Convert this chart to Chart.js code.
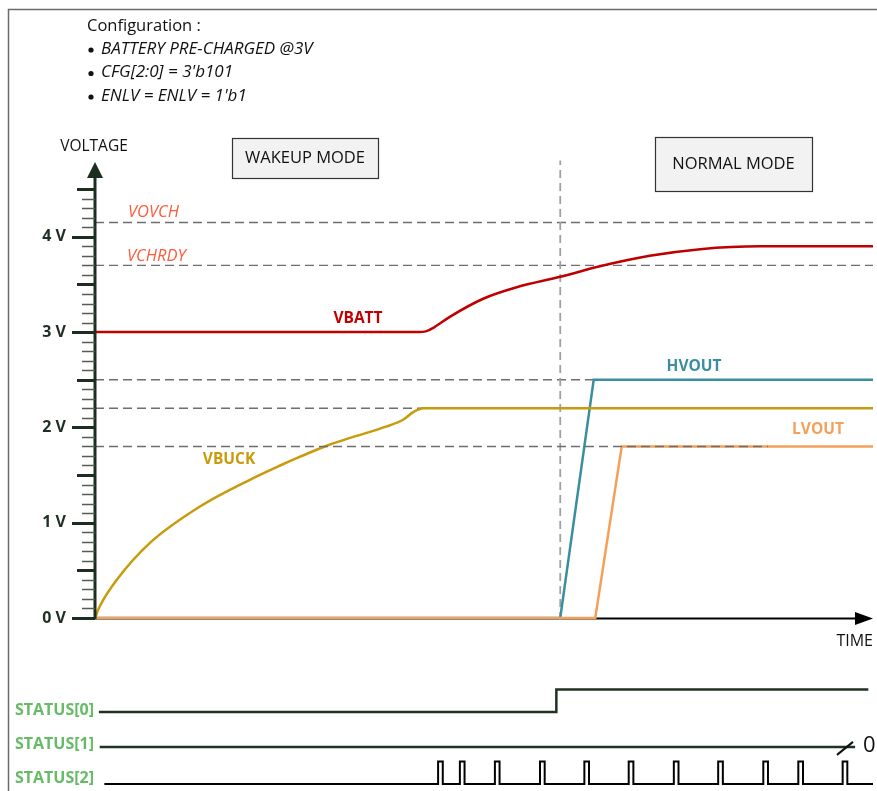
<!DOCTYPE html>
<html>
<head>
<meta charset="utf-8">
<title>Wakeup timing</title>
<script src="https://cdn.jsdelivr.net/npm/chart.js@4.4.1/dist/chart.umd.min.js"></script>
<style>
  html, body { margin: 0; padding: 0; background: #fff; }
  #wrap { width: 877px; height: 791px; }
</style>
</head>
<body>
<div id="wrap"><canvas id="timing" width="877" height="791"></canvas></div>
<script>
// time runs 0..100 (arbitrary units), voltages in V
const vbattT = [0, 41.3, 42.6, 43.6, 45.6, 49.9, 54.2, 59.8, 64.9, 71.3, 77.8, 85.5, 100];
const vbattV = [3.0, 3.0, 3.01, 3.05, 3.16, 3.35, 3.47, 3.58, 3.69, 3.80, 3.87, 3.90, 3.90];

const vbuckT = [0, 0.6, 2.8, 7.1, 13.5, 19.9, 23.8, 26.3, 30.2, 33.2, 37.5, 39.6, 40.9, 42.2, 100];
const vbuckV = [0, 0.12, 0.40, 0.79, 1.17, 1.45, 1.60, 1.69, 1.82, 1.90, 2.01, 2.08, 2.16, 2.20, 2.20];

const hvoutT = [0, 59.8, 64.1, 100];
const hvoutV = [0, 0, 2.5, 2.5];

const lvoutT = [0, 64.3, 67.7, 100];
const lvoutV = [0, 0, 1.8, 1.8];

const refNames = ['VOVCH', 'VCHRDY', '', '', ''];
const refLevels = [4.15, 3.7, 2.5, 2.2, 1.8];
const refEnd = [100, 100, 100, 100, 86.5];
const modeSwitchT = 59.8;

const yTickLabels = ['0 V', '1 V', '2 V', '3 V', '4 V'];

// status signals: edge times and logic levels
const status0T = [0.5, 59.3, 99.4];
const status0L = [0, 1, 1];
const status1T = [0.6, 97.7];
const status1L = [0, 0];
const status2Start = 1.2;
const status2End = 100;
const status2Rise = [44.1, 46.9, 51.4, 57.2, 62.9, 68.6, 74.4, 80.1, 85.9, 90.4, 96.1];
const status2Width = 0.6;

const statusNames = ['STATUS[0]', 'STATUS[1]', 'STATUS[2]'];
const laneBase = [3.2, 1.65, 0];

const FONT = '"Open Sans"';

const pts = (t, v) => t.map((x, i) => ({ x, y: v[i] }));
const lane = (t, l, k) => t.map((x, i) => ({ x, y: laneBase[k] + l[i] }));

const pulses = [{ x: status2Start, y: 0 }];
status2Rise.forEach(r => {
  pulses.push({ x: r, y: 1 });
  pulses.push({ x: r + status2Width, y: 0 });
});
pulses.push({ x: status2End, y: 0 });

const datasets = [];
refLevels.forEach((lv, i) => {
  datasets.push({
    data: [{ x: 0, y: lv }, { x: refEnd[i], y: lv }],
    borderColor: '#6e6e6e', borderWidth: 1.4, borderDash: [9, 5],
    pointRadius: 0, order: i === 4 ? 1 : 10
  });
});
datasets.push({
  data: [{ x: modeSwitchT, y: -0.02 }, { x: modeSwitchT, y: 4.8 }],
  borderColor: '#a0a0a0', borderWidth: 1.8, borderDash: [8, 5],
  pointRadius: 0, order: 9
});
datasets.push({ label: 'HVOUT', data: pts(hvoutT, hvoutV), borderColor: '#3a8ea0', borderWidth: 2.5, tension: 0, pointRadius: 0, order: 6 });
datasets.push({ label: 'VBUCK', data: pts(vbuckT, vbuckV), borderColor: '#c89b0a', borderWidth: 2.5, cubicInterpolationMode: 'monotone', pointRadius: 0, order: 5 });
datasets.push({ label: 'VBATT', data: pts(vbattT, vbattV), borderColor: '#c00000', borderWidth: 2.5, cubicInterpolationMode: 'monotone', pointRadius: 0, order: 5 });
datasets.push({ label: 'LVOUT', data: pts(lvoutT, lvoutV), borderColor: '#f5a05a', borderWidth: 2.5, tension: 0, pointRadius: 0, order: 4 });
datasets.push({ data: lane(status0T, status0L, 0), yAxisID: 'ys', stepped: 'before', borderColor: '#1e3322', borderWidth: 2.5, pointRadius: 0, order: 3 });
datasets.push({ data: lane(status1T, status1L, 1), yAxisID: 'ys', stepped: 'before', borderColor: '#1e3322', borderWidth: 2.5, pointRadius: 0, order: 3 });
datasets.push({ data: pulses.map(p => ({ x: p.x, y: laneBase[2] + p.y })), yAxisID: 'ys', stepped: 'before', borderColor: '#000', borderWidth: 2, pointRadius: 0, order: 3 });

function text(ctx, s, x, y, font, color, align) {
  ctx.font = font + ' ' + FONT;
  ctx.fillStyle = color;
  ctx.textAlign = align || 'left';
  ctx.textBaseline = 'middle';
  ctx.fillText(s, x, y);
}

function box(ctx, x0, y0, x1, y1, label) {
  ctx.fillStyle = '#f2f2f2';
  ctx.fillRect(x0, y0, x1 - x0, y1 - y0);
  ctx.strokeStyle = '#333';
  ctx.lineWidth = 1.2;
  ctx.strokeRect(x0 + 0.5, y0 + 0.5, x1 - x0, y1 - y0);
  text(ctx, label, (x0 + x1) / 2, (y0 + y1) / 2, '16.5px', '#111', 'center');
}

const decor = {
  id: 'decor',
  beforeDatasetsDraw(chart) {
    const { ctx, scales: { x, y } } = chart;
    const y0 = y.getPixelForValue(0);
    const xa = x.getPixelForValue(0);
    const xe = x.getPixelForValue(100);
    ctx.save();
    ctx.strokeStyle = '#000';
    ctx.lineWidth = 2;
    ctx.beginPath();
    ctx.moveTo(xa, y0 + 0.5);
    ctx.lineTo(xe - 14, y0 + 0.5);
    ctx.stroke();
    ctx.fillStyle = '#000';
    ctx.beginPath();
    ctx.moveTo(xe, y0 + 0.5);
    ctx.lineTo(xe - 18, y0 - 6);
    ctx.lineTo(xe - 18, y0 + 7);
    ctx.closePath();
    ctx.fill();
    ctx.restore();
  },
  afterDatasetsDraw(chart) {
    const { ctx, scales: { x, y, ys } } = chart;
    const xa = x.getPixelForValue(0);
    const y0 = y.getPixelForValue(0);
    const tip = y.getPixelForValue(4.785);
    ctx.save();

    // frame
    ctx.strokeStyle = '#6a6a6a';
    ctx.lineWidth = 1.5;
    ctx.beginPath();
    ctx.moveTo(8.5, 791);
    ctx.lineTo(8.5, 9.5);
    ctx.lineTo(877, 9.5);
    ctx.stroke();

    // voltage axis
    ctx.strokeStyle = '#1c2e1f';
    ctx.lineWidth = 3;
    ctx.beginPath();
    ctx.moveTo(xa, y0 + 1);
    ctx.lineTo(xa, tip + 12);
    ctx.stroke();
    ctx.fillStyle = '#1c2e1f';
    ctx.beginPath();
    ctx.moveTo(xa, tip);
    ctx.lineTo(xa - 8, tip + 16);
    ctx.lineTo(xa + 8, tip + 16);
    ctx.closePath();
    ctx.fill();

    for (let i = 0; i <= 45; i++) {
      const py = Math.round(y.getPixelForValue(i / 10)) + 0.5;
      let len = 13, w = 1.5, c = '#4f5f52';
      if (i % 10 === 0) { len = 23; w = 3; c = '#1c2e1f'; }
      else if (i % 5 === 0) { len = 18; w = 3; c = '#1c2e1f'; }
      ctx.strokeStyle = c;
      ctx.lineWidth = w;
      ctx.beginPath();
      ctx.moveTo(xa - len, py);
      ctx.lineTo(xa, py);
      ctx.stroke();
    }
    yTickLabels.forEach((s, i) => {
      text(ctx, s, 66, y.getPixelForValue(i), 'bold 16px', '#1f2f22', 'right');
    });
    text(ctx, 'VOLTAGE', 94, 147, '15.5px', '#111', 'center');
    text(ctx, 'TIME', 873, 641, '16px', '#111', 'right');

    // reference names
    text(ctx, refNames[0], 128, y.getPixelForValue(refLevels[0]) - 10, 'italic 16.5px', '#ff5a3c');
    text(ctx, refNames[1], 127, y.getPixelForValue(refLevels[1]) - 9, 'italic 16.5px', '#ff5a3c');

    // series names
    text(ctx, 'VBATT', 358, 319, 'bold 15.5px', '#c00000', 'center');
    text(ctx, 'HVOUT', 694, 367, 'bold 15.5px', '#3a8ea0', 'center');
    text(ctx, 'VBUCK', 229, 460, 'bold 15.5px', '#c89b0a', 'center');
    text(ctx, 'LVOUT', 818, 430, 'bold 15.5px', '#f5a05a', 'center');

    box(ctx, 232, 138, 378, 178, 'WAKEUP MODE');
    box(ctx, 655, 137, 812, 191, 'NORMAL MODE');

    // configuration notes
    text(ctx, 'Configuration :', 87, 26, '16.5px', '#111');
    const notes = ['BATTERY PRE-CHARGED @3V', "CFG[2:0] = 3'b101", "ENLV = ENLV = 1'b1"];
    notes.forEach((s, i) => {
      const py = 49 + i * 23.5;
      ctx.fillStyle = '#111';
      ctx.beginPath();
      ctx.arc(91, py + 1, 2.6, 0, Math.PI * 2);
      ctx.fill();
      text(ctx, s, 101, py, 'italic 17px', '#111');
    });

    // status lanes
    statusNames.forEach((s, k) => {
      const py = ys.getPixelForValue(laneBase[k]);
      text(ctx, s, 94, py - (k === 2 ? 6 : 2), 'bold 16px', '#66bb66', 'right');
    });
    const sy = ys.getPixelForValue(laneBase[1]);
    const sx = x.getPixelForValue(96.4);
    ctx.strokeStyle = '#111';
    ctx.lineWidth = 2;
    ctx.beginPath();
    ctx.moveTo(sx - 8, sy + 8);
    ctx.lineTo(sx + 8, sy - 5);
    ctx.stroke();
    text(ctx, '0', 863, sy - 1, '22px', '#111');
    ctx.restore();
  }
};

new Chart(document.getElementById('timing'), {
  type: 'line',
  data: { datasets },
  options: {
    responsive: false,
    animation: false,
    events: [],
    layout: { padding: { left: 95, right: 4, top: 141.5, bottom: 1.5 } },
    plugins: { legend: { display: false }, tooltip: { enabled: false } },
    scales: {
      x: { type: 'linear', min: 0, max: 100, display: false },
      y: { type: 'linear', min: -1.8, max: 5.0, display: false },
      ys: { type: 'linear', min: -0.244, max: 28.556, display: false }
    }
  },
  plugins: [decor]
});
</script>
</body>
</html>
